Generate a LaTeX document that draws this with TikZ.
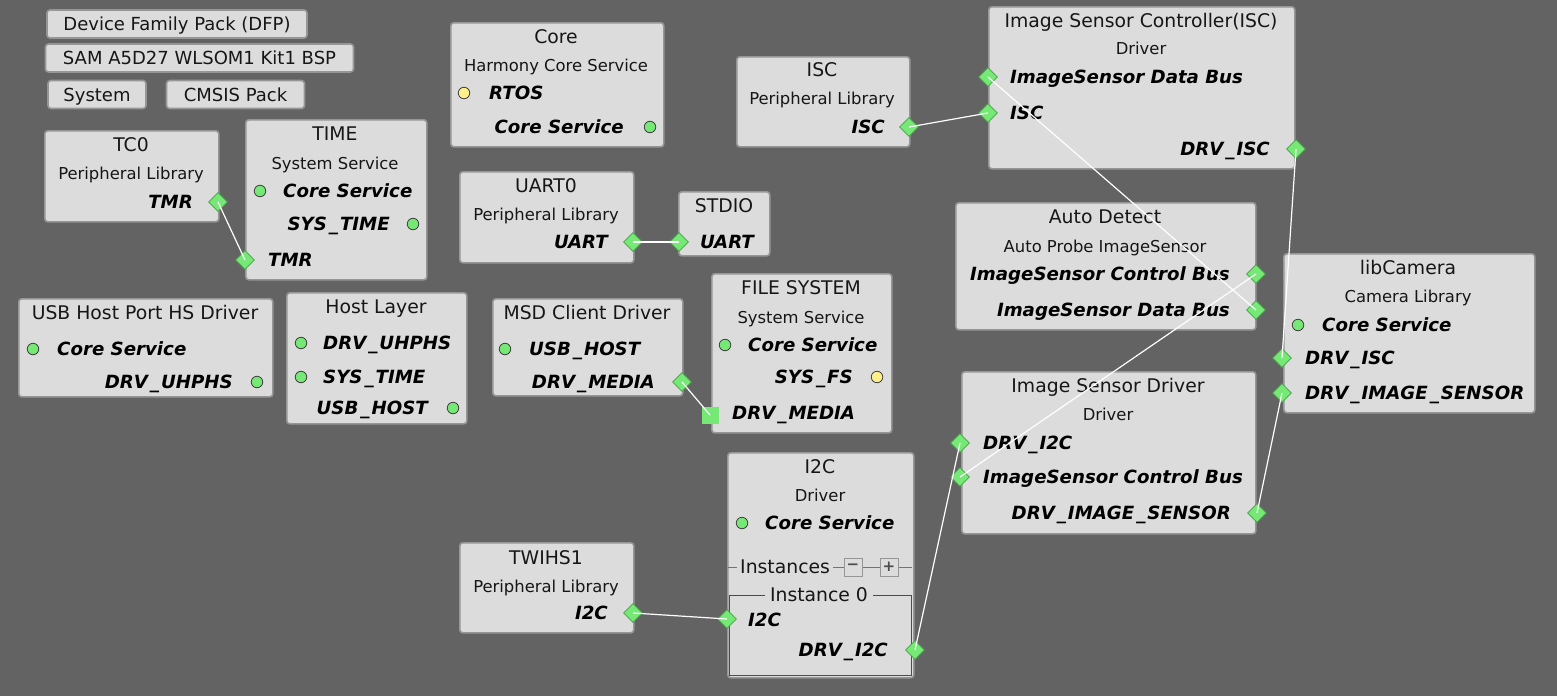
\documentclass[tikz,border=0pt]{standalone}
\usepackage{fontspec}
\setmainfont{DejaVu Sans}
\usetikzlibrary{shapes.geometric}
\definecolor{bg}{RGB}{99,99,99}
\definecolor{boxfill}{RGB}{220,220,220}
\definecolor{boxline}{RGB}{150,150,150}
\definecolor{portgreen}{RGB}{118,232,118}
\definecolor{portedge}{RGB}{70,160,70}
\definecolor{portyellow}{RGB}{255,240,140}
\definecolor{txt}{RGB}{22,22,22}
\tikzset{
  cbox/.style={draw=boxline, fill=boxfill, line width=1.6pt, rounded corners=3pt, inner sep=0pt},
  btn/.style={cbox, font=\fontsize{18}{21}\selectfont, text=txt, minimum height=28pt, text height=13.1pt, text depth=0pt},
  ttl/.style={font=\fontsize{18.8}{22}\selectfont, text=txt, inner sep=0pt, text height=13.7pt, text depth=0pt},
  sub/.style={font=\fontsize{16.4}{19}\selectfont, text=txt, inner sep=0pt, text height=12pt, text depth=0pt},
  lbl/.style={font=\fontsize{18.2}{21}\selectfont\bfseries\itshape, text=black, inner sep=0pt, text height=13.3pt, text depth=0pt},
  dport/.style={diamond, fill=portgreen, draw=portedge, line width=0.6pt, minimum width=19pt, minimum height=19pt, inner sep=0pt},
  cport/.style={circle, fill=portgreen, draw=black!75, line width=0.8pt, minimum size=11.5pt, inner sep=0pt},
  yport/.style={cport, fill=portyellow},
  sport/.style={rectangle, fill=portgreen, minimum size=17pt, inner sep=0pt},
  mini/.style={draw=boxline, fill=boxfill, line width=1pt, minimum size=18pt, inner sep=0pt, font=\fontsize{15}{15}\selectfont\bfseries, text=black!70},
  sepline/.style={draw=black!55, line width=1pt},
  wire/.style={draw=white, line width=1.2pt},
}
\newcommand{\cbx}[5]{\node[cbox, anchor=north west, minimum width={#4-#2}, minimum height={#5-#3}] (#1) at (#2,#3) {};}
\newcommand{\us}{\kern2pt\_\kern2pt}
\begin{document}
\begin{tikzpicture}[x=1pt,y=-1pt]
\fill[bg] (0,0) rectangle (1557,696);
\useasboundingbox (0,0) rectangle (1557,696);

% top buttons
\node[btn, minimum width=260pt] (dfp) at (177,24) {Device Family Pack (DFP)};
\node[btn, minimum width=308pt] (bsp) at (199.5,58) {SAM A5D27 WLSOM1 Kit1 BSP};
\node[btn, minimum width=98pt] (sys) at (97,94.5) {System};
\node[btn, minimum width=138pt] (cmsis) at (235.5,94.5) {CMSIS Pack};

% TC0
\cbx{tc0}{44}{130}{218}{221}
\node[ttl] (tc0t) at (131,145) {TC0};
\node[sub] (tc0s) at (131,173) {Peripheral Library};
\node[lbl, anchor=east] (tc0l) at (193,202) {TMR};
\node[dport] (tc0p) at (218,202) {};

% TIME
\cbx{time}{245}{119}{426}{279}
\node[ttl] (timet) at (335,134) {TIME};
\node[sub] (times) at (335,163) {System Service};
\node[cport] (timec1) at (260,191) {};
\node[lbl, anchor=west] (timel1) at (283,191) {Core Service};
\node[lbl, anchor=east] (timel2) at (390,224) {SYS\us TIME};
\node[cport] (timec2) at (413,224) {};
\node[dport] (timep) at (245,260) {};
\node[lbl, anchor=west] (timel3) at (268,260) {TMR};

% Core
\cbx{core}{450}{22}{663}{146}
\node[ttl] (coret) at (556,37) {Core};
\node[sub] (cores) at (556,65) {Harmony Core Service};
\node[yport] (corey) at (464,93) {};
\node[lbl, anchor=west] (corel1) at (489,93) {RTOS};
\node[lbl, anchor=east] (corel2) at (624,127) {Core Service};
\node[cport] (corec) at (650,127) {};

% ISC peripheral
\cbx{isc}{736}{56}{909}{146}
\node[ttl] (isct) at (822,70) {ISC};
\node[sub] (iscs) at (822,98) {Peripheral Library};
\node[lbl, anchor=east] (iscl) at (885,127) {ISC};
\node[dport] (iscp) at (909,127) {};

% UART0
\cbx{uart}{459}{171}{633}{262}
\node[ttl] (uartt) at (546,186) {UART0};
\node[sub] (uarts) at (546,214) {Peripheral Library};
\node[lbl, anchor=east] (uartl) at (608,242) {UART};
\node[dport] (uartp) at (633,242) {};

% STDIO
\cbx{stdio}{678}{191}{769}{255}
\node[ttl] (stdiot) at (724,206) {STDIO};
\node[dport] (stdiop) at (679,242) {};
\node[lbl, anchor=west] (stdiol) at (700,242) {UART};

% Image Sensor Controller
\cbx{iscc}{988}{6}{1294}{168}
\node[ttl] (iscct) at (1141,21) {Image Sensor Controller(ISC)};
\node[sub] (isccs) at (1141,48) {Driver};
\node[dport] (isccdata) at (988,77) {};
\node[lbl, anchor=west] (isccl1) at (1010,77) {ImageSensor Data Bus};
\node[dport] (isccisc) at (988,113) {};
\node[lbl, anchor=west] (isccl2) at (1010,113) {ISC};
\node[lbl, anchor=east] (isccl3) at (1270,149) {DRV\us ISC};
\node[dport] (isccdrv) at (1296,149) {};

% Auto Detect
\cbx{ad}{955}{202}{1255}{329}
\node[ttl] (adt) at (1105,217) {Auto Detect};
\node[sub] (ads) at (1105,246) {Auto Probe ImageSensor};
\node[lbl, anchor=east] (adl1) at (1230,274) {ImageSensor Control Bus};
\node[dport] (adctrl) at (1256,274) {};
\node[lbl, anchor=east] (adl2) at (1230,310) {ImageSensor Data Bus};
\node[dport] (addata) at (1256,310) {};

% libCamera
\cbx{lib}{1283}{253}{1534}{412}
\node[ttl] (libt) at (1408,268) {libCamera};
\node[sub] (libs) at (1408,296) {Camera Library};
\node[cport] (libc) at (1298,325) {};
\node[lbl, anchor=west] (libl1) at (1322,325) {Core Service};
\node[dport] (libisc) at (1282,358) {};
\node[lbl, anchor=west] (libl2) at (1305,358) {DRV\us ISC};
\node[dport] (libsensor) at (1282,393) {};
\node[lbl, anchor=west] (libl3) at (1305,393) {DRV\us IMAGE\us SENSOR};

% Image Sensor Driver
\cbx{isd}{961}{371}{1255}{533}
\node[ttl] (isdt) at (1108,386) {Image Sensor Driver};
\node[sub] (isds) at (1108,414) {Driver};
\node[dport] (isdi2c) at (960,443) {};
\node[lbl, anchor=west] (isdl1) at (983,443) {DRV\us I2C};
\node[dport] (isdctrl) at (960,477) {};
\node[lbl, anchor=west] (isdl2) at (983,477) {ImageSensor Control Bus};
\node[lbl, anchor=east] (isdl3) at (1231,513) {DRV\us IMAGE\us SENSOR};
\node[dport] (isdsensor) at (1257,513) {};

% USB Host Port HS Driver
\cbx{usb}{18}{298}{272}{396}
\node[ttl] (usbt) at (145,313) {USB Host Port HS Driver};
\node[cport] (usbc1) at (33,349) {};
\node[lbl, anchor=west] (usbl1) at (57,349) {Core Service};
\node[lbl, anchor=east] (usbl2) at (233,382) {DRV\us UHPHS};
\node[cport] (usbc2) at (257,382) {};

% Host Layer
\cbx{host}{286}{292}{466}{423}
\node[ttl] (hostt) at (376,307) {Host Layer};
\node[cport] (hostc1) at (301,343) {};
\node[lbl, anchor=west] (hostl1) at (323,343) {DRV\us UHPHS};
\node[cport] (hostc2) at (301,377) {};
\node[lbl, anchor=west] (hostl2) at (323,377) {SYS\us TIME};
\node[lbl, anchor=east] (hostl3) at (428,408) {USB\us HOST};
\node[cport] (hostc3) at (453,408) {};

% MSD Client Driver
\cbx{msd}{492}{298}{682}{395}
\node[ttl] (msdt) at (587,313) {MSD Client Driver};
\node[cport] (msdc) at (505,349) {};
\node[lbl, anchor=west] (msdl1) at (529,349) {USB\us HOST};
\node[lbl, anchor=east] (msdl2) at (655,382) {DRV\us MEDIA};
\node[dport] (msdmedia) at (682,382) {};

% FILE SYSTEM
\cbx{fs}{711}{273}{891}{432}
\node[ttl] (fst) at (801,288) {FILE SYSTEM};
\node[sub] (fss) at (801,317) {System Service};
\node[cport] (fsc) at (725,345) {};
\node[lbl, anchor=west] (fsl1) at (748,345) {Core Service};
\node[lbl, anchor=east] (fsl2) at (853,377) {SYS\us FS};
\node[yport] (fsy) at (877,377) {};
\node[sport] (fsmedia) at (710,415) {};
\node[lbl, anchor=west] (fsl3) at (732,413) {DRV\us MEDIA};

% TWIHS1
\cbx{twi}{459}{542}{633}{632}
\node[ttl] (twit) at (546,558) {TWIHS1};
\node[sub] (twis) at (546,586) {Peripheral Library};
\node[lbl, anchor=east] (twil) at (608,613) {I2C};
\node[dport] (twip) at (633,613) {};

% I2C driver
\cbx{i2c}{727}{452}{913}{677}
\node[ttl] (i2ct) at (820,467) {I2C};
\node[sub] (i2cs) at (820,495) {Driver};
\node[cport] (i2cc) at (742,523) {};
\node[lbl, anchor=west] (i2cl1) at (765,523) {Core Service};
\node[ttl, anchor=west] (insts) at (740,567) {Instances};
\node[mini] (minus) at (853,567) {−};
\node[mini] (plus) at (889,567) {+};
\coordinate (instl) at (728,567);
\coordinate (instr) at (912,567);
\draw[sepline] (instl) -- ([xshift=-3pt]insts.west);
\draw[sepline] ([xshift=3pt]insts.east) -- (minus.west);
\draw[sepline] (minus.east) -- (plus.west);
\draw[sepline] (plus.east) -- (instr);
\node[draw=black!70, line width=1.3pt, anchor=north west, minimum width=182pt, minimum height=80pt, inner sep=0pt] (inst) at (729,595) {};
\node[ttl, fill=boxfill, inner xsep=5pt] (instt) at (819,595) {Instance 0};
\node[dport] (i2ci2c) at (727,619) {};
\node[lbl, anchor=west] (i2cl2) at (748,620) {I2C};
\node[lbl, anchor=east] (i2cl3) at (888,650) {DRV\us I2C};
\node[dport] (i2cdrv) at (915,650) {};

% wires
\draw[wire] (tc0p.center) -- (timep.center);
\draw[wire] (uartp.center) -- (stdiop.center);
\draw[wire] (iscp.center) -- (isccisc.center);
\draw[wire] (isccdata.center) -- (addata.center);
\draw[wire] (isccdrv.center) -- (libisc.center);
\draw[wire] (adctrl.center) -- (isdctrl.center);
\draw[wire] (isdsensor.center) -- (libsensor.center);
\draw[wire] (i2cdrv.center) -- (isdi2c.center);
\draw[wire] (twip.center) -- (i2ci2c.center);
\draw[wire] (msdmedia.center) -- (fsmedia.center);
\end{tikzpicture}
\end{document}
